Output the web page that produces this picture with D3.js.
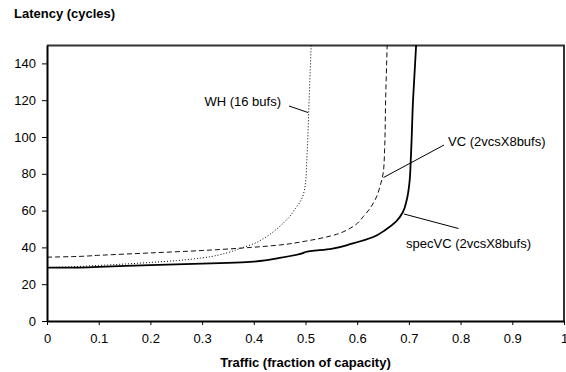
<!DOCTYPE html>
<html>
<head>
<meta charset="utf-8">
<script src="https://cdnjs.cloudflare.com/ajax/libs/d3/7.8.5/d3.min.js"></script>
<style>
  body { margin: 0; background: #fff; }
  svg { display: block; font-family: "Liberation Sans", Arial, sans-serif; }
</style>
</head>
<body>
<svg width="566" height="372"></svg>
<script>
// traffic (fraction of capacity) -> latency (cycles)
var whX   = [0, 0.05, 0.1, 0.2, 0.25, 0.3, 0.35, 0.375, 0.4, 0.42, 0.44, 0.46, 0.47, 0.48, 0.49, 0.5, 0.503, 0.507, 0.511];
var whY   = [29, 29.5, 30.2, 31.8, 32.8, 34.3, 37.2, 39.6, 42, 45, 49, 54, 57, 61, 65, 75, 90, 120, 150];
var vcX   = [0, 0.05, 0.1, 0.2, 0.3, 0.375, 0.45, 0.5, 0.55, 0.59, 0.612, 0.635, 0.645, 0.651, 0.653, 0.655, 0.658];
var vcY   = [34.7, 35, 35.7, 37, 38.3, 39.6, 41.3, 43.4, 46.3, 51, 56.8, 66, 74, 82, 93, 120, 150];
var specX = [0, 0.05, 0.1, 0.2, 0.3, 0.35, 0.4, 0.45, 0.495, 0.5, 0.55, 0.59, 0.63, 0.655, 0.675, 0.688, 0.696, 0.701, 0.704, 0.708, 0.714];
var specY = [29, 29, 29.4, 30.4, 31.2, 31.6, 32.3, 34.3, 36.9, 37.5, 39.2, 42, 45.5, 49.6, 54, 59, 66, 75, 90, 120, 150];
var xTicks = [0, 0.1, 0.2, 0.3, 0.4, 0.5, 0.6, 0.7, 0.8, 0.9, 1];
var yTicks = [0, 20, 40, 60, 80, 100, 120, 140];

var svg = d3.select("svg"),
    margin = {top: 45, right: 2, bottom: 51, left: 47},
    width = +svg.attr("width") - margin.left - margin.right,
    height = +svg.attr("height") - margin.top - margin.bottom;

var x = d3.scaleLinear().domain([0, 1]).range([0, width]),
    y = d3.scaleLinear().domain([0, 150]).range([height, 0]);

var g = svg.append("g")
    .attr("transform", "translate(" + margin.left + "," + margin.top + ")");

// frame top / right
g.append("path")
    .attr("d", "M0,0.5H" + width + "V" + height)
    .attr("fill", "none")
    .attr("stroke", "#333")
    .attr("stroke-width", 2);

// all series rise monotonically in latency, so smooth along y
var line = d3.line()
    .x(function (d) { return x(d[0]); })
    .y(function (d) { return y(d[1]); })
    .curve(d3.curveMonotoneY);

function pairs(xs, ys) {
    return xs.map(function (v, i) { return [v, ys[i]]; });
}

g.append("path")
    .datum(pairs(whX, whY))
    .attr("fill", "none")
    .attr("stroke", "#000")
    .attr("stroke-width", 1)
    .attr("stroke-dasharray", "1,2")
    .attr("d", line);

g.append("path")
    .datum(pairs(vcX, vcY))
    .attr("fill", "none")
    .attr("stroke", "#111")
    .attr("stroke-width", 1)
    .attr("stroke-dasharray", "5,3")
    .attr("d", line);

g.append("path")
    .datum(pairs(specX, specY))
    .attr("fill", "none")
    .attr("stroke", "#000")
    .attr("stroke-width", 1.8)
    .attr("d", line);

// axes
var xAxis = g.append("g")
    .attr("transform", "translate(0," + height + ")")
    .call(d3.axisBottom(x).tickValues(xTicks).tickSize(4).tickSizeOuter(0)
        .tickFormat(function (d) { return d; }));
var yAxis = g.append("g")
    .call(d3.axisLeft(y).tickValues(yTicks).tickSize(5).tickSizeOuter(0));

[xAxis, yAxis].forEach(function (a) {
    a.select(".domain").attr("stroke", "#000").attr("stroke-width", 2);
    a.selectAll("line").attr("stroke", "#000");
    a.selectAll("text").attr("font-size", 13).attr("fill", "#000")
        .attr("font-family", "Liberation Sans, Arial, sans-serif");
});
xAxis.selectAll("text").attr("dy", "1.15em");
yAxis.selectAll("text").attr("x", -11);

// titles
svg.append("text")
    .attr("x", 14).attr("y", 18)
    .attr("font-size", 13).attr("font-weight", "bold")
    .text("Latency (cycles)");

svg.append("text")
    .attr("x", margin.left + width / 2).attr("y", 367)
    .attr("text-anchor", "middle")
    .attr("font-size", 13).attr("font-weight", "bold")
    .text("Traffic (fraction of capacity)");

// series labels with leader lines
var labels = [
    {text: "WH (16 bufs)", tx: 281, ty: 106, anchor: "end", l: [[289, 106], [308, 112.5]]},
    {text: "VC (2vcsX8bufs)", tx: 448, ty: 146, anchor: "start", l: [[444, 145], [383.5, 177.5]]},
    {text: "specVC (2vcsX8bufs)", tx: 406, ty: 248, anchor: "start", l: [[458.5, 228.5], [404, 214]]}
];
labels.forEach(function (d) {
    svg.append("line")
        .attr("x1", d.l[0][0]).attr("y1", d.l[0][1])
        .attr("x2", d.l[1][0]).attr("y2", d.l[1][1])
        .attr("stroke", "#000").attr("stroke-width", 1);
    svg.append("text")
        .attr("x", d.tx).attr("y", d.ty)
        .attr("text-anchor", d.anchor)
        .attr("font-size", 13)
        .text(d.text);
});
</script>
</body>
</html>
